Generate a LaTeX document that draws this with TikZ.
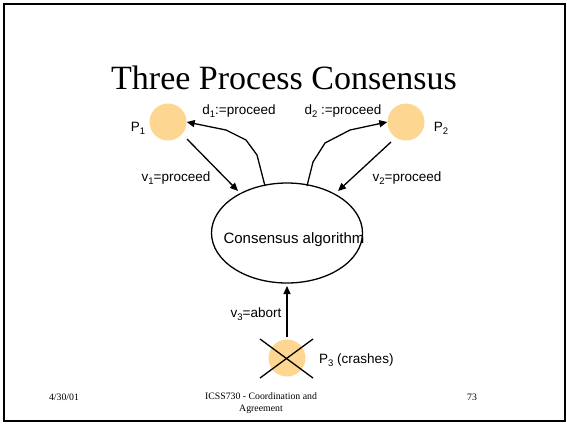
\documentclass[tikz,border=0pt]{standalone}
\usepackage{fontspec}
\setmainfont{Liberation Sans}
\newfontfamily\serifx{Liberation Serif}
\usetikzlibrary{arrows.meta,shapes.geometric}
\definecolor{proc}{RGB}{253,214,145}
\newcommand{\lowsub}[1]{\raisebox{-3pt}{\fontsize{9.5}{10}\selectfont #1}}
\tikzset{
  procnode/.style={circle,fill=proc,minimum size=37pt,inner sep=0pt},
  lbl/.style={font=\fontsize{13.5}{15}\selectfont,inner sep=0pt},
  foot/.style={font=\serifx\fontsize{9.8}{12}\selectfont,inner sep=0pt,align=center},
  arr/.style={line width=1.3pt,-{Triangle[length=8pt,width=7pt]}},
}
\begin{document}
\begin{tikzpicture}[x=1pt,y=-1pt]
\useasboundingbox (0,0) rectangle (567,424);
\draw[line width=2pt] (4,4) rectangle (565,421);
\node[font=\serifx\fontsize{34}{38}\selectfont,inner sep=0pt] (title) at (284,78) {Three Process Consensus};
\node[procnode] (p1) at (168,122) {};
\node[procnode] (p2) at (406,122) {};
\node[procnode] (p3) at (287,358) {};
\node[draw,ellipse,line width=1.3pt,minimum width=151pt,minimum height=100pt,inner sep=0pt] (alg) at (287,233) {};
\node[lbl,font=\fontsize{15}{17}\selectfont] (algt) at (294,240) {Consensus algorithm};
\node[lbl] (p1l) at (138,128) {P\lowsub{1}};
\node[lbl] (p2l) at (441,128) {P\lowsub{2}};
\node[lbl,anchor=west] (p3l) at (319,360) {P\lowsub{3} (crashes)};
\node[lbl] (v1l) at (176,178) {v\lowsub{1}=proceed};
\node[lbl] (v2l) at (407,178) {v\lowsub{2}=proceed};
\node[lbl] (v3l) at (256,314) {v\lowsub{3}=abort};
\node[lbl] (d1l) at (239,111) {d\lowsub{1}:=proceed};
\node[lbl] (d2l) at (343,111) {d\lowsub{2} :=proceed};
\coordinate (a1s) at (187,139);
\coordinate (a1e) at (238,191);
\draw[arr] (a1s) -- (a1e);
\coordinate (a2s) at (391,142);
\coordinate (a2e) at (338,191);
\draw[arr] (a2s) -- (a2e);
\coordinate (a3s) at (287,337);
\coordinate (a3e) at (287,286);
\draw[arr] (a3s) -- (a3e);
\draw[arr] (265,186) -- (257,155) -- (246,140) -- (226,130) -- (p1.east);
\draw[arr] (307,186) -- (313,162) -- (325,143) -- (350,130) -- (p2.west);
\draw[line width=1.3pt] (260,339) -- (313,378);
\draw[line width=1.3pt] (313,339) -- (260,378);
\node[foot] (date) at (64,397) {4/30/01};
\node[foot] (course) at (261,403) {ICSS730 - Coordination and\\Agreement};
\node[foot] (page) at (472,397) {73};
\end{tikzpicture}
\end{document}
